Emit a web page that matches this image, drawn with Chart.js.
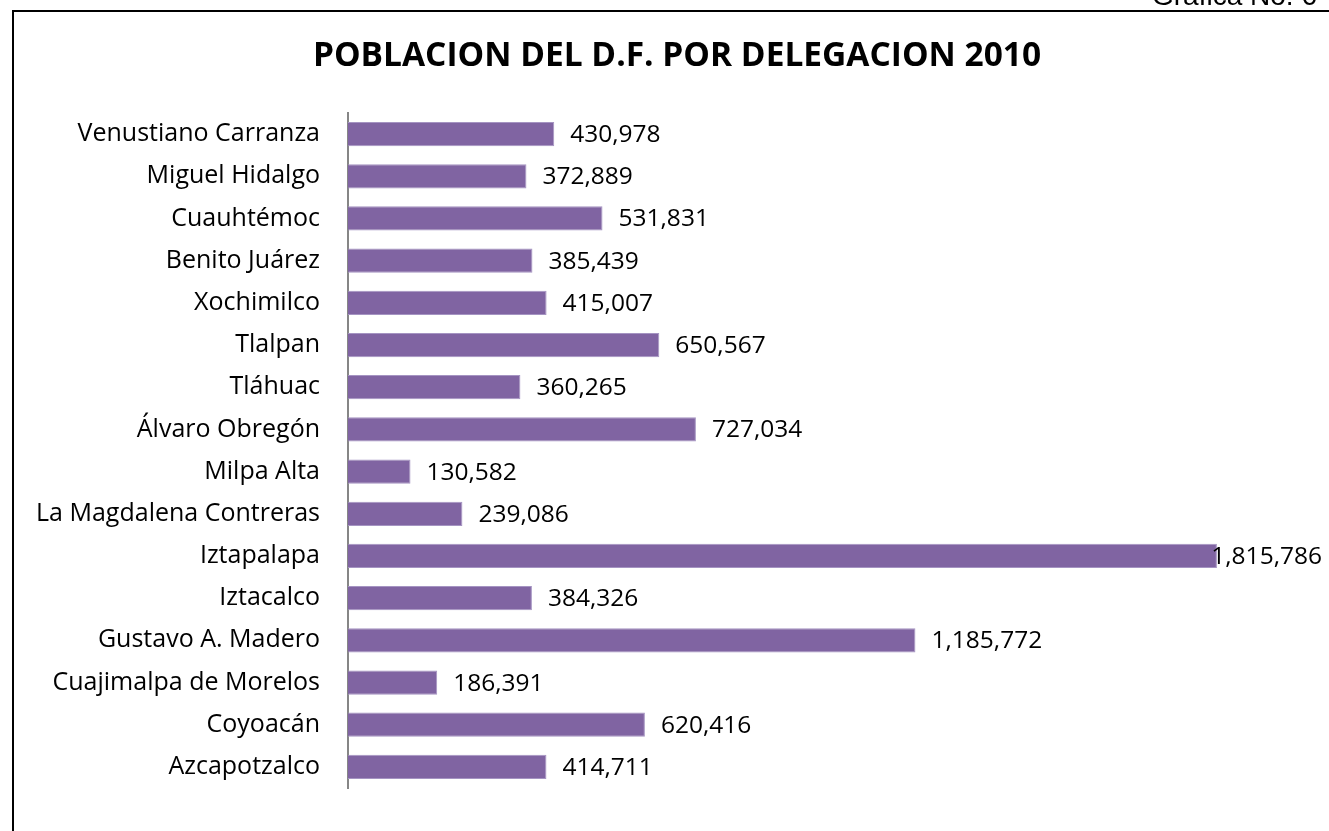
<!DOCTYPE html>
<html>
<head>
<meta charset="utf-8">
<title>Poblacion del D.F. por delegacion 2010</title>
<script src="https://cdn.jsdelivr.net/npm/chart.js@4/dist/chart.umd.min.js"></script>
<style>
    html, body { margin: 0; padding: 0; background: #fff; }
    #wrap { width: 1329px; height: 831px; position: relative; }
</style>
</head>
<body>
<div id="wrap"><canvas id="pop-chart" width="1329" height="831"></canvas></div>
<script>
const delegaciones = [
    'Venustiano Carranza', 'Miguel Hidalgo', 'Cuauhtémoc', 'Benito Juárez',
    'Xochimilco', 'Tlalpan', 'Tláhuac', 'Álvaro Obregón', 'Milpa Alta',
    'La Magdalena Contreras', 'Iztapalapa', 'Iztacalco', 'Gustavo A. Madero',
    'Cuajimalpa de Morelos', 'Coyoacán', 'Azcapotzalco'
];
const poblacion = [
    430978, 372889, 531831, 385439,
    415007, 650567, 360265, 727034, 130582,
    239086, 1815786, 384326, 1185772,
    186391, 620416, 414711
];
const tituloGrafica = 'POBLACION DEL D.F. POR DELEGACION 2010';
const etiquetaPagina = 'Gráfica No. 6';

// page frame + header text, drawn behind everything
const framePlugin = {
    id: 'frame',
    beforeDraw(chart) {
        const { ctx } = chart;
        ctx.save();
        ctx.strokeStyle = '#000';
        ctx.lineWidth = 2;
        ctx.beginPath();
        ctx.moveTo(13, chart.height);
        ctx.lineTo(13, 11);
        ctx.lineTo(chart.width, 11);
        ctx.stroke();

        ctx.fillStyle = '#000';
        ctx.font = '28px "Liberation Sans", Arial, sans-serif';
        ctx.textBaseline = 'alphabetic';
        ctx.textAlign = 'left';
        ctx.fillText(etiquetaPagina, 1152, 5);
        ctx.restore();
    }
};

// value labels at the end of each bar (kept inside the page when the bar is long)
const valueLabelPlugin = {
    id: 'valueLabels',
    afterDatasetsDraw(chart) {
        const { ctx } = chart;
        const meta = chart.getDatasetMeta(0);
        ctx.save();
        ctx.font = '24.5px "Open Sans", sans-serif';
        ctx.fillStyle = '#000';
        ctx.textBaseline = 'middle';
        ctx.textAlign = 'left';
        meta.data.forEach((bar, i) => {
            const text = poblacion[i].toLocaleString('en-US');
            const w = ctx.measureText(text).width;
            const x = Math.min(bar.x + 16, chart.width - 7 - w);
            ctx.fillText(text, x, bar.y + 1);
        });
        ctx.restore();
    }
};

const ctx = document.getElementById('pop-chart').getContext('2d');

const popChart = new Chart(ctx, {
    type: 'bar',
    data: {
        labels: delegaciones,
        datasets: [{
            label: 'Poblacion 2010',
            data: poblacion,
            backgroundColor: '#8064A2',
            borderColor: '#A594C2',
            borderWidth: 1,
            borderSkipped: 'start',
            categoryPercentage: 1,
            barPercentage: 0.575
        }]
    },
    options: {
        indexAxis: 'y',
        responsive: false,
        animation: false,
        layout: {
            padding: { left: 25, right: 0, top: 0, bottom: 22 }
        },
        scales: {
            x: {
                display: false,
                min: 0,
                max: 2050000,
                grid: { display: false }
            },
            y: {
                afterFit(scale) {
                    scale.width = 323;
                },
                grid: { display: false, drawTicks: false },
                border: { display: true, color: '#868686', width: 2 },
                ticks: {
                    color: '#000',
                    padding: 28,
                    font: { family: '"Open Sans", sans-serif', size: 25 }
                }
            }
        },
        plugins: {
            legend: { display: false },
            tooltip: { enabled: false },
            title: {
                display: true,
                text: tituloGrafica,
                color: '#000',
                font: { family: '"Open Sans", sans-serif', size: 33.5, weight: 'bold', lineHeight: 1.2 },
                padding: { top: 36.5, bottom: 36.3 }
            }
        }
    },
    plugins: [framePlugin, valueLabelPlugin]
});
</script>
</body>
</html>
